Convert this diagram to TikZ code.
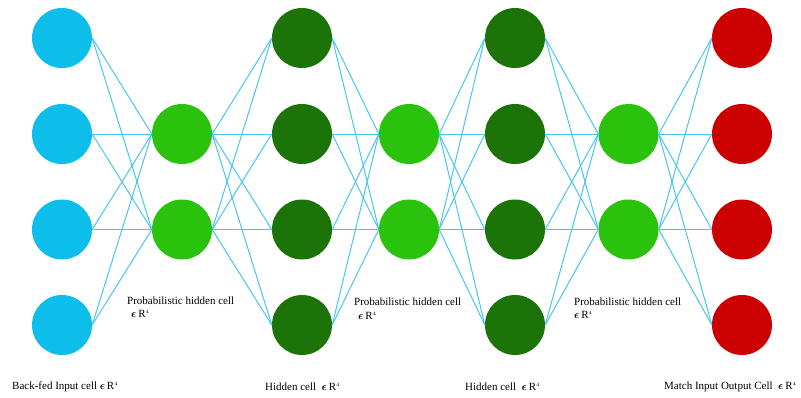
\documentclass[tikz,border=0pt]{standalone}
\usepackage{fontspec}
\usepackage{bm}
\setmainfont{Liberation Serif}
\definecolor{cblue}{RGB}{13,189,234}
\definecolor{cgreen}{RGB}{43,194,14}
\definecolor{cdark}{RGB}{28,115,7}
\definecolor{cred}{RGB}{204,0,0}
\definecolor{clink}{RGB}{70,198,240}
\newcommand{\eR}{$\bm{\epsilon}$\,R$^{\scriptscriptstyle 4}$}
\begin{document}
\begin{tikzpicture}[x=1pt,y=-1pt,
  cell/.style={circle,minimum size=60pt,inner sep=0pt,draw=none},
  inpcell/.style={cell,fill=cblue},
  probcell/.style={cell,fill=cgreen},
  hidcell/.style={cell,fill=cdark},
  outcell/.style={cell,fill=cred},
  conn/.style={draw=clink,line width=1pt},
  lbl/.style={font=\fontsize{11}{13}\selectfont,inner sep=0pt,anchor=west,align=left}]
\useasboundingbox (0,0) rectangle (801,397);
% four-cell layers
\foreach \i/\y in {1/38,2/134,3/229.5,4/325}{
  \node[inpcell] (a\i) at (62,\y) {};
  \node[hidcell] (c\i) at (302,\y) {};
  \node[hidcell] (e\i) at (515,\y) {};
  \node[outcell] (g\i) at (742,\y) {};
}
% two-cell layers
\foreach \j/\y in {1/134,2/229.5}{
  \node[probcell] (b\j) at (182,\y) {};
  \node[probcell] (d\j) at (409,\y) {};
  \node[probcell] (f\j) at (628.5,\y) {};
}
% connections
\foreach \i in {1,...,4}{
  \foreach \j in {1,2}{
    \draw[conn] (a\i.east) -- (b\j.west);
    \draw[conn] (b\j.east) -- (c\i.west);
    \draw[conn] (c\i.east) -- (d\j.west);
    \draw[conn] (d\j.east) -- (e\i.west);
    \draw[conn] (e\i.east) -- (f\j.west);
    \draw[conn] (f\j.east) -- (g\i.west);
  }
}
% labels
\node[lbl] (l1) at (127,300.5) {Probabilistic hidden cell};
\node[lbl] (l1e) at (131,314) {\eR};
\node[lbl] (l2) at (354,302) {Probabilistic hidden cell};
\node[lbl] (l2e) at (358,316) {\eR};
\node[lbl] (l3) at (574,302) {Probabilistic hidden cell};
\node[lbl] (l3e) at (574,315) {\eR};
\node[lbl] (t1) at (12,386.5) {Back-fed Input cell \eR};
\node[lbl] (t2) at (265,386.5) {Hidden cell \ \eR};
\node[lbl] (t3) at (465,386.5) {Hidden cell \ \eR};
\node[lbl] (t4) at (664,386.5) {Match Input Output Cell \ \eR};
\end{tikzpicture}
\end{document}
